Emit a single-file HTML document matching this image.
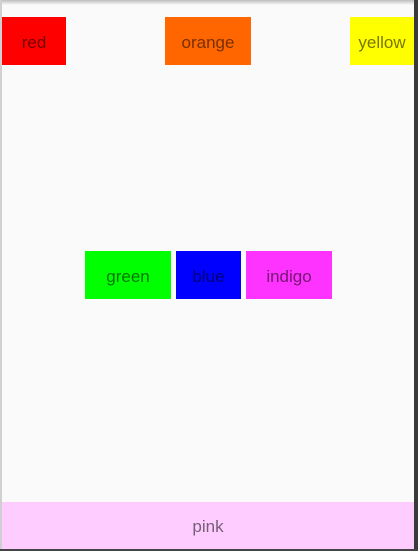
<!DOCTYPE html>
<html><head><meta charset="utf-8"><style>
html,body{margin:0;padding:0;}
body{width:418px;height:551px;position:relative;overflow:hidden;background:#fafafa;font-family:"Liberation Sans",sans-serif;}
.box{position:absolute;display:flex;align-items:center;justify-content:center;font-size:17px;color:rgba(0,0,0,0.54);box-sizing:border-box;padding-top:3px;}
</style></head><body>
<div style="position:absolute;left:0;top:0;width:418px;height:5px;background:linear-gradient(#bdbdbd,#fafafa);"></div>
<div style="position:absolute;left:0;top:0;width:2px;height:551px;background:#d0d0d0;"></div>
<div style="position:absolute;left:414px;top:0;width:4px;height:551px;background:#3a3a3a;"></div>
<div style="position:absolute;left:0;top:549px;width:418px;height:2px;background:#444;"></div>
<div class="box" style="left:2px;top:17px;width:64px;height:48px;background:#ff0000;">red</div>
<div class="box" style="left:165px;top:17px;width:86px;height:48px;background:#ff6600;">orange</div>
<div class="box" style="left:350px;top:17px;width:64px;height:48px;background:#ffff00;">yellow</div>
<div class="box" style="left:85px;top:251px;width:86px;height:48px;background:#00ff00;">green</div>
<div class="box" style="left:176px;top:251px;width:65px;height:48px;background:#0000ff;">blue</div>
<div class="box" style="left:246px;top:251px;width:86px;height:48px;background:#ff33ff;">indigo</div>
<div class="box" style="left:2px;top:502px;width:412px;height:47px;background:#ffccff;">pink</div>
</body></html>
